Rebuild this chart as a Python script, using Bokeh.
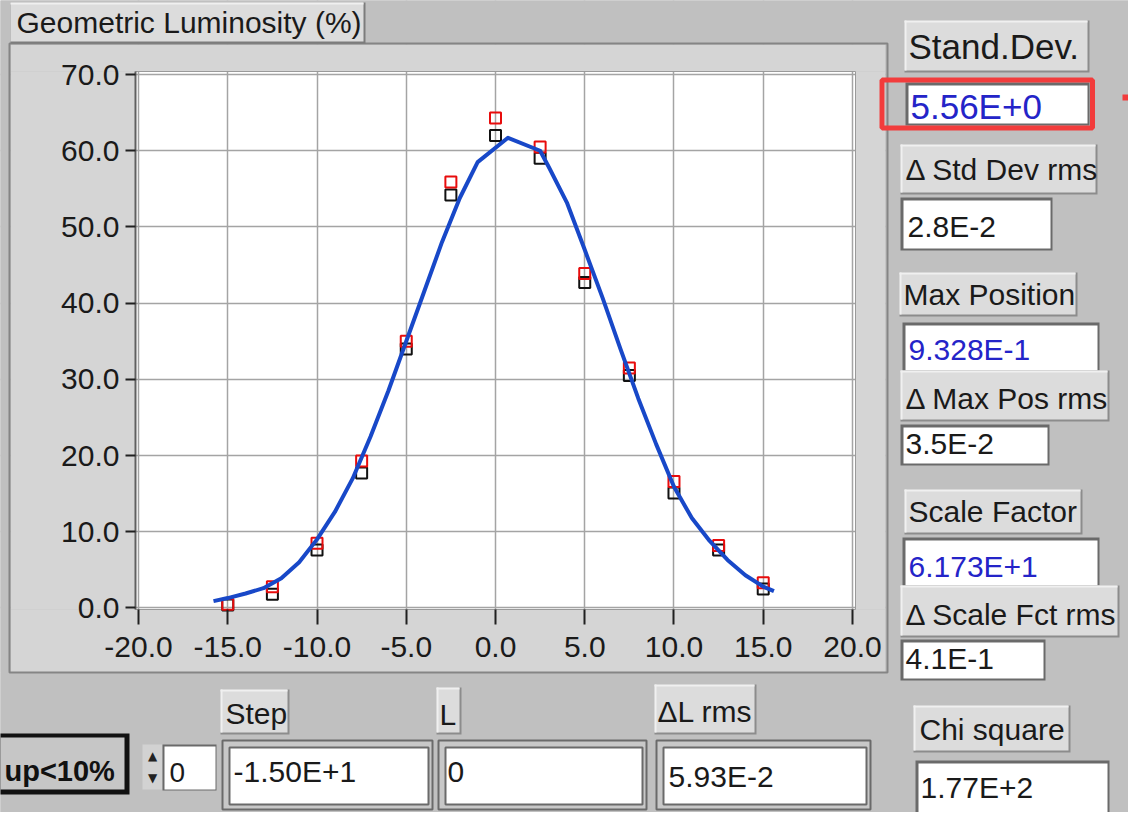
from bokeh.plotting import figure
from bokeh.models import Range1d, FixedTicker, BoxAnnotation, Label, LinearAxis, Grid
from bokeh.embed import file_html
from bokeh.resources import INLINE

# ---------------- data ----------------
x_pts = [-15, -12.5, -10, -7.5, -5, -2.5, 0, 2.5, 5, 7.5, 10, 12.5, 15]
red_vals = [0.5, 2.8, 8.5, 19.3, 35.0, 55.9, 64.3, 60.5, 43.9, 31.5, 16.6, 8.2, 3.3]
black_vals = [0.4, 1.8, 7.6, 17.7, 34.0, 54.2, 62.0, 59.0, 42.7, 30.5, 15.1, 7.6, 2.5]

fit_x = [-15.8, -15, -14, -13, -12, -11, -10, -9, -8, -7, -6, -5, -4, -3, -2, -1,
         0.7, 2.5, 3, 4, 5, 6, 7, 8, 9, 10, 11, 12, 13, 14, 15, 15.6]
fit_y = [0.9, 1.3, 1.9, 2.6, 3.9, 6.0, 9.0, 12.6, 17.0, 22.5, 28.5, 35.0, 41.5, 48.0, 53.8, 58.5,
         61.7, 60.0, 57.8, 53.2, 47.0, 40.7, 34.0, 27.5, 21.5, 15.9, 11.8, 8.8, 6.3, 4.3, 2.8, 2.2]

x_ticks = [-20, -15, -10, -5, 0, 5, 10, 15, 20]
x_tick_labels = ["-20.0", "-15.0", "-10.0", "-5.0", "0.0", "5.0", "10.0", "15.0", "20.0"]
y_ticks = [0, 10, 20, 30, 40, 50, 60, 70]
y_tick_labels = ["0.0", "10.0", "20.0", "30.0", "40.0", "50.0", "60.0", "70.0"]
x_lim = (-20.17, 20.17)
y_lim = (-0.2, 70.4)

chart_title = "Geometric Luminosity (%)"
side_fields = [  # label, value, value colour
    ("Stand.Dev.", "5.56E+0", "blue"),
    ("\u0394 Std Dev rms", "2.8E-2", "black"),
    ("Max Position", "9.328E-1", "blue"),
    ("\u0394 Max Pos rms", "3.5E-2", "black"),
    ("Scale Factor", "6.173E+1", "blue"),
    ("\u0394 Scale Fct rms", "4.1E-1", "black"),
]
bottom_fields = [("Step", "-1.50E+1"), ("L", "0"), ("\u0394L rms", "5.93E-2"), ("Chi square", "1.77E+2")]
button_text = "up<10%"
spin_value = "0"

# ---------------- layout (reference pixel coords) ----------------
W, H = 1128, 812
OX, OY = 8, 8                      # page margin
FL, FR, FT, FB = 143, 863, 79, 617  # chart plot area in page pixels

FONT = "Liberation Sans"
TXT = "#1a1a1a"
BLUE = "#2424c8"
BG = "#c0c0c0"
PANEL = "#d5d5d5"
LBL = "#dcdcdc"

# the frame fills the whole canvas; ranges are extended so that the chart
# limits land on the plot-area pixels
kx = (FR - FL) / (x_lim[1] - x_lim[0])
ky = (FB - FT) / (y_lim[1] - y_lim[0])
x_range = Range1d(x_lim[0] - (FL - OX) / kx, x_lim[1] + (OX + W - FR) / kx)
y_range = Range1d(y_lim[0] - (OY + H - FB) / ky, y_lim[1] + (FT - OY) / ky)

p = figure(width=W, height=H, x_range=x_range, y_range=y_range,
           x_axis_type=None, y_axis_type=None,
           output_backend="svg", toolbar_location=None, min_border=0)
p.border_fill_color = BG
p.background_fill_color = BG
p.outline_line_color = None


def sx(X):
    return X - OX


def sy(Y):
    return OY + H - Y


def box(x0, y0, x1, y1, fill=None, line=None, lw=1, level="underlay"):
    p.add_layout(BoxAnnotation(
        left=sx(x0), right=sx(x1), top=sy(y0), bottom=sy(y1),
        left_units="screen", right_units="screen", top_units="screen", bottom_units="screen",
        fill_color=fill, fill_alpha=1.0 if fill else 0.0,
        line_color=line, line_alpha=1.0 if line else 0.0, line_width=lw, level=level))


def txt(X, Yb, s, size=30, color=TXT, bold=False, font=FONT, align="left"):
    # Yb = wanted baseline (page pixels); bokeh places the text box a little lower
    p.add_layout(Label(x=sx(X), y=sy(Yb) + 0.36 * size, x_units="screen", y_units="screen", text=s,
                       text_font=font, text_font_size=f"{size}px", text_color=color,
                       text_baseline="alphabetic", text_align=align,
                       text_font_style="bold" if bold else "normal"))


# white plot area first (below the grid)
box(FL, FT, FR, FB, "#ffffff", level="image")

# grid
for dim, ticks in ((0, x_ticks), (1, y_ticks)):
    p.add_layout(Grid(dimension=dim, ticker=FixedTicker(ticks=ticks),
                      grid_line_color="#a4a4a4", grid_line_width=1.5))

# panel around the plot area (covers the grid outside the plot)
box(18, 52, 893, FT, PANEL)
box(18, FB, 893, 680, PANEL)
box(18, FT, FL, FB, PANEL)
box(FR, FT, 893, FB, PANEL)
box(0, 0, 1150, 52, BG)
box(0, 52, 18, 680, BG)
box(893, 52, 1150, 680, BG)
box(0, 680, 1150, 830, BG)
box(17, 51, 895, 680, None, "#858585", 2)
box(FL, FT, FR, FB, None, "#9a9a9a", 1)

# axes fixed to the edges of the plot area
xaxis = LinearAxis(fixed_location=y_lim[0], bounds=x_lim, ticker=FixedTicker(ticks=x_ticks))
yaxis = LinearAxis(fixed_location=x_lim[0], bounds=y_lim, ticker=FixedTicker(ticks=y_ticks))
for ax, ticks, labels in ((xaxis, x_ticks, x_tick_labels), (yaxis, y_ticks, y_tick_labels)):
    ax.major_label_overrides = {t: l for t, l in zip(ticks, labels)}
    ax.major_label_text_font = FONT
    ax.major_label_text_font_size = "30px"
    ax.major_label_text_color = TXT
    ax.minor_tick_line_color = None
    ax.major_tick_in = 0
    ax.major_tick_line_color = "#202020"
    ax.major_tick_line_width = 2
xaxis.axis_line_color = None
xaxis.major_tick_out = 15
xaxis.major_label_standoff = 12
yaxis.axis_line_color = "#606060"
yaxis.axis_line_width = 2
yaxis.major_tick_out = 10
yaxis.major_label_standoff = 6
p.add_layout(xaxis, "below")
p.add_layout(yaxis, "left")

# data glyphs
p.scatter(x_pts, black_vals, marker="square", size=11, fill_color=None,
          line_color="#111111", line_width=2)
p.scatter(x_pts, red_vals, marker="square", size=11, fill_color=None,
          line_color="#e80c0c", line_width=2)
p.line(fit_x, fit_y, line_color="#1848c8", line_width=4, line_join="round")


# ---------------- panel decoration ----------------
def label_box(x0, y0, x1, y1):
    box(x0, y0, x1 + 2, y1 + 2, "#8c8c8c")
    box(x0, y0, x1, y1, LBL)
    box(x0, y0, x1, y0 + 2, "#f0f0f0")
    box(x0, y0, x0 + 2, y1, "#f0f0f0")


def value_box(x0, y0, x1, y1):
    box(x0, y0, x1, y1, "#6a6a6a")
    box(x0 + 3, y0 + 3, x1 - 2, y1 - 2, "#ffffff")


def double_box(x0, y0, x1, y1):
    box(x0, y0, x1, y1, "#c8c8c8", "#6a6a6a", 2)
    box(x0 + 7, y0 + 7, x1 - 4, y1 - 5, "#ffffff", "#6a6a6a", 2)


# chart title tab
box(18, 10, 373, 51, "#7c7c7c")
box(18, 10, 371, 49, LBL)
box(18, 10, 371, 12, "#f0f0f0")
txt(24, 41, chart_title)

# right column
side_label_boxes = [(912, 28, 1095, 78), (908, 152, 1103, 200), (907, 280, 1083, 322),
                    (908, 378, 1115, 427), (912, 497, 1088, 540), (908, 593, 1125, 643)]
side_value_boxes = [(913, 90, 1097, 133), (908, 205, 1060, 258), (910, 330, 1107, 380),
                    (908, 432, 1057, 473), (910, 545, 1107, 595), (908, 647, 1053, 688)]
side_label_text = [(916, 67), (913, 188), (911, 313), (913, 417), (916, 530), (913, 633)]
side_value_text = [(918, 127), (915, 245), (916, 368), (913, 462), (916, 585), (913, 677)]
side_sizes = [35, 30, 30, 30, 30, 30]

for i, (lab, val, col) in enumerate(side_fields):
    value_box(*side_value_boxes[i])
    label_box(*side_label_boxes[i])
    txt(side_label_text[i][0], side_label_text[i][1], lab, size=side_sizes[i])
    txt(side_value_text[i][0], side_value_text[i][1], val, size=side_sizes[i],
        color=BLUE if col == "blue" else TXT)

# red highlight around the Stand.Dev. value
box(889.5, 87.5, 1100, 135.5, None, "#f23c3c", 5, level="annotation")
box(1130, 102, 1150, 108, "#f23c3c", level="annotation")

# bottom row
box(0, 741, 137, 802, "#111111")
box(0, 745, 132, 797, "#c6c6c6")
txt(12, 789, button_text, size=29, bold=True, color="#111111")

box(150, 752, 170, 797, "#d2d2d2")
txt(160, 768, "\u25b2", size=12, font="DejaVu Sans", align="center", color="#222222")
txt(160, 790, "\u25bc", size=12, font="DejaVu Sans", align="center", color="#222222")
box(170, 752, 224, 798, "#6a6a6a")
box(172, 754, 223, 797, "#ffffff")
txt(177, 790, spin_value, size=28)

bottom_label_boxes = [(228, 697, 295, 740), (444, 695, 467, 740), (662, 692, 762, 740), (921, 713, 1076, 758)]
bottom_label_text = [(233, 732), (447, 733), (665, 730), (927, 748)]
bottom_value_boxes = [(230, 748, 440, 817), (446, 748, 654, 817), (664, 748, 878, 817)]
bottom_value_text = [(241, 790), (455, 790), (676, 795), (928, 806)]

for i, (lab, val) in enumerate(bottom_fields):
    label_box(*bottom_label_boxes[i])
    txt(bottom_label_text[i][0], bottom_label_text[i][1], lab)
    if i < 3:
        double_box(*bottom_value_boxes[i])
    else:
        value_box(923, 768, 1117, 824)
    txt(bottom_value_text[i][0], bottom_value_text[i][1], val)

open("out.html", "w").write(file_html(p, INLINE))
